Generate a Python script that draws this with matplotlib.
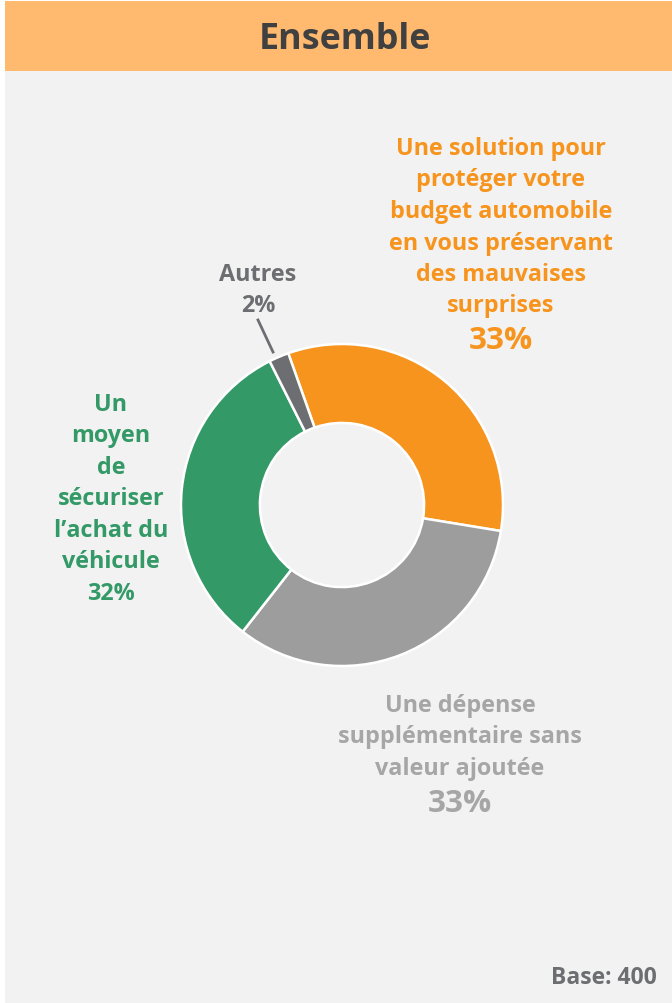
import matplotlib.pyplot as plt
from matplotlib.patches import Rectangle

plt.rcParams['font.family'] = ['Open Sans', 'DejaVu Sans']

# data
labels = [["Une solution pour", "protéger votre", "budget automobile",
           "en vous préservant", "des mauvaises", "surprises"],
          ["Une dépense", "supplémentaire sans", "valeur ajoutée"],
          ["Un", "moyen", "de", "sécuriser", "l’achat du", "véhicule"],
          ["Autres"]]
values = [33, 33, 32, 2]
colors = ['#F7941D', '#9D9D9D', '#339966', '#6D6E71']
text_colors = ['#F7941D', '#A6A6A6', '#339966', '#6D6E71']

W, H = 672, 1004
fig = plt.figure(figsize=(W / 100, H / 100), dpi=100)
fig.patch.set_facecolor('white')

bg = fig.add_axes([0, 0, 1, 1])
bg.set_xlim(0, W)
bg.set_ylim(H, 0)
bg.axis('off')
bg.add_patch(Rectangle((5, 72), W - 5, H - 72, facecolor='#F2F2F2', edgecolor='none'))
bg.add_patch(Rectangle((5, 2), W - 5, 70, facecolor='#FFBA70', edgecolor='none'))
bg.text(345, 40, "Ensemble", ha='center', va='center', fontsize=25.8,
        fontweight='bold', color='#404040')

# donut
cx, cy, r = 342, 506, 161
ax = fig.add_axes([(cx - r) / W, (H - cy - r) / H, 2 * r / W, 2 * r / H])
ax.pie(values, colors=colors, startangle=109.5, counterclock=False,
       wedgeprops=dict(width=0.49, edgecolor='white', linewidth=1.8))
ax.set_xlim(-1, 1)
ax.set_ylim(-1, 1)
ax.set_aspect('equal')
ax.axis('off')

fs = 16.8
step = 31.5


def block(lines, x, y0, color):
    for i, s in enumerate(lines):
        bg.text(x, y0 + i * step, s, ha='center', va='center', fontsize=fs,
                fontweight='bold', color=color)


# orange label
block(labels[0], 501, 149, text_colors[0])
bg.text(501, 341, f"{values[0]}%", ha='center', va='center', fontsize=22.5,
        fontweight='bold', color=text_colors[0])
# gray label
block(labels[1], 460, 706, text_colors[1])
bg.text(460, 804, f"{values[1]}%", ha='center', va='center', fontsize=22.5,
        fontweight='bold', color=text_colors[1])
# green label
block(labels[2] + [f"{values[2]}%"], 111, 405, text_colors[2])
# autres label
block(labels[3] + [f"{values[3]}%"], 258, 275, text_colors[3])
bg.plot([258, 273], [321, 353], color='#6D6E71', lw=2)

bg.text(657, 978, "Base: 400", ha='right', va='center', fontsize=16.5,
        fontweight='bold', color='#6D6E71')

fig.savefig('out.png', dpi=100)
